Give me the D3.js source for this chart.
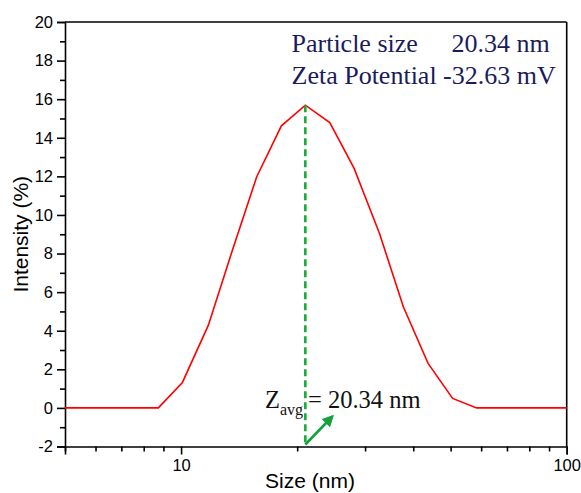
<!DOCTYPE html>
<html>
<head>
<meta charset="utf-8">
<script src="https://cdn.jsdelivr.net/npm/d3@7"></script>
<style>
  body { margin: 0; background: #fff; }
  svg { display: block; }
  .axis text { font-family: Arial, "Liberation Sans", sans-serif; font-size: 16.5px; fill: #000; }
  .axis path, .axis line { stroke: #000; stroke-width: 1.6; }
</style>
</head>
<body>
<svg id="chart" width="581" height="493"></svg>
<script>
// particle size distribution
const sizes = [5, 8.73, 10.08, 11.77, 13.6, 15.7, 18.2, 21.0, 24.3, 28.1, 32.7, 37.7, 43.7, 50.6, 58.4, 100];
const intensity = [0, 0, 1.32, 4.29, 8.2, 11.97, 14.62, 15.69, 14.79, 12.41, 9.04, 5.24, 2.31, 0.49, 0, 0];

const yMajor = [-2, 0, 2, 4, 6, 8, 10, 12, 14, 16, 18, 20];
const yMinor = [-1, 1, 3, 5, 7, 9, 11, 13, 15, 17, 19];
const xMajor = [10, 100];
const xMinor = [5, 6, 7, 8, 9, 20, 30, 40, 50, 60, 70, 80, 90];

const peakSize = 21.0;   // dashed marker sits on the peak
const zAvg = "20.34 nm";
const zeta = "-32.63 mV";

const svg = d3.select("#chart");
const margin = { top: 22, right: 14.3, bottom: 46.5, left: 65 };
const W = 581, H = 493;

const x = d3.scaleLog().domain([5, 100]).range([margin.left, W - margin.right]);
const y = d3.scaleLinear().domain([-2, 20]).range([H - margin.bottom, margin.top]);

// frame top / right
svg.append("line").attr("x1", margin.left).attr("x2", W - margin.right)
    .attr("y1", margin.top).attr("y2", margin.top).attr("stroke", "#000").attr("stroke-width", 1.6);
svg.append("line").attr("x1", W - margin.right).attr("x2", W - margin.right)
    .attr("y1", margin.top).attr("y2", H - margin.bottom).attr("stroke", "#000").attr("stroke-width", 1.6);

// y axis (plain hyphen for negatives, like the original)
svg.append("g").attr("class", "axis")
    .attr("transform", `translate(${margin.left},0)`)
    .call(d3.axisLeft(y).tickValues(yMajor).tickSize(8).tickPadding(4).tickFormat(d => String(d)));
svg.append("g").attr("class", "axis")
    .attr("transform", `translate(${margin.left},0)`)
    .call(d3.axisLeft(y).tickValues(yMinor).tickSize(5).tickFormat(""))
    .select(".domain").remove();

// x axis
svg.append("g").attr("class", "axis")
    .attr("transform", `translate(0,${H - margin.bottom})`)
    .call(d3.axisBottom(x).tickValues(xMajor).tickSize(8).tickPadding(5).tickFormat(d => String(d)));
svg.append("g").attr("class", "axis")
    .attr("transform", `translate(0,${H - margin.bottom})`)
    .call(d3.axisBottom(x).tickValues(xMinor).tickSize(5).tickFormat(""))
    .select(".domain").remove();

// axis titles
svg.append("text").attr("x", 310).attr("y", 488).attr("text-anchor", "middle")
    .style("font-family", "Arial, 'Liberation Sans', sans-serif").style("font-size", "21px")
    .text("Size (nm)");
svg.append("text").attr("transform", `translate(28,${(margin.top + H - margin.bottom) / 2}) rotate(-90)`)
    .attr("text-anchor", "middle")
    .style("font-family", "Arial, 'Liberation Sans', sans-serif").style("font-size", "21px")
    .text("Intensity (%)");

// distribution line
const line = d3.line().x((d, i) => x(sizes[i])).y(d => y(d));
svg.append("path").datum(intensity)
    .attr("d", line).attr("fill", "none").attr("stroke", "#ff0000").attr("stroke-width", 1.6);

// dashed marker at the peak
const peakVal = intensity[sizes.indexOf(peakSize)];
svg.append("line")
    .attr("x1", x(peakSize)).attr("x2", x(peakSize))
    .attr("y1", y(peakVal)).attr("y2", y(-2))
    .attr("stroke", "#1aaa3a").attr("stroke-width", 2.6).attr("stroke-dasharray", "7,4");

// arrow
svg.append("defs").append("marker")
    .attr("id", "arrowhead").attr("viewBox", "0 -5 10 10")
    .attr("refX", 8).attr("refY", 0).attr("orient", "auto")
    .attr("markerWidth", 4.5).attr("markerHeight", 4.5)
    .append("path").attr("d", "M0,-5 L10,0 L0,5 Z").attr("fill", "#14a03c");
svg.append("line")
    .attr("x1", x(peakSize)).attr("y1", y(-2) - 2)
    .attr("x2", x(peakSize) + 27).attr("y2", y(-2) - 30)
    .attr("stroke", "#14a03c").attr("stroke-width", 2.6)
    .attr("marker-end", "url(#arrowhead)");

// Z_avg label
const serif = "'Times New Roman', 'Liberation Serif', serif";
const zt = svg.append("text").attr("x", 265).attr("y", 408)
    .style("font-family", serif).style("font-size", "24.5px").style("fill", "#111");
zt.append("tspan").text("Z");
zt.append("tspan").attr("dy", 7).style("font-size", "16px").text("avg");
zt.append("tspan").attr("x", 308).attr("dy", -7).text("= " + zAvg);

// info text, top right
const info = svg.append("g").style("font-family", serif).style("font-size", "26px").style("fill", "#1b1b5c");
info.append("text").attr("x", 291.5).attr("y", 51.5).text("Particle size");
info.append("text").attr("x", 451.5).attr("y", 51.5).text(zAvg);
info.append("text").attr("x", 291.5).attr("y", 83.5).text("Zeta Potential " + zeta);
</script>
</body>
</html>
